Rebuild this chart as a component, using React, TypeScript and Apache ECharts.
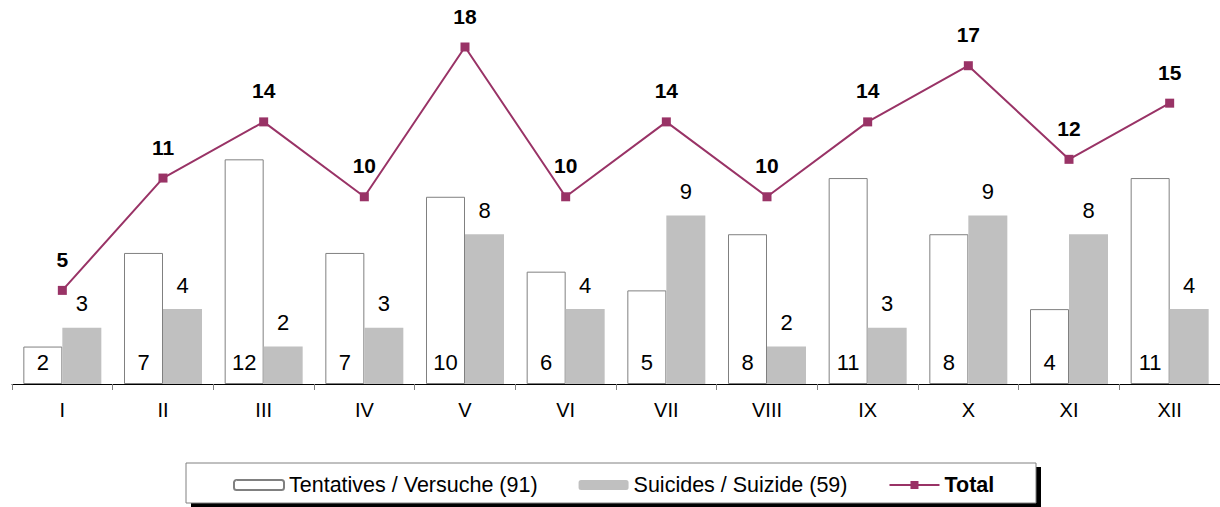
import React, { useEffect, useRef } from "react";
import * as echarts from "echarts";

const categories = ["I", "II", "III", "IV", "V", "VI", "VII", "VIII", "IX", "X", "XI", "XII"];
const tentatives = [2, 7, 12, 7, 10, 6, 5, 8, 11, 8, 4, 11];
const suicides = [3, 4, 2, 3, 8, 4, 9, 2, 3, 9, 8, 4];
const totals = [5, 11, 14, 10, 18, 10, 14, 10, 14, 17, 12, 15];
const seriesNames = ["Tentatives / Versuche (91)", "Suicides / Suizide (59)", "Total"];

const FONT = "'Liberation Sans', Arial, sans-serif";

export default function App() {
  const ref = useRef<HTMLDivElement>(null);
  useEffect(() => {
    if (!ref.current) return;
    const chart = echarts.init(ref.current, undefined, { renderer: "svg" });
    chart.setOption({
      animation: false,
      textStyle: { fontFamily: FONT },
      grid: { left: 12, right: 0, top: 47, bottom: 123 },
      graphic: [
        { type: "rect", shape: { x: 191, y: 467, width: 850, height: 40 }, style: { fill: "#000" }, z: 0 },
        { type: "rect", shape: { x: 186, y: 463, width: 850, height: 40 }, style: { fill: "#fff", stroke: "#808080", lineWidth: 1 }, z: 1 },
      ],
      legend: {
        left: 228,
        top: 469,
        itemWidth: 50,
        itemHeight: 10,
        itemGap: 41,
        z: 10,
        textStyle: { fontSize: 21.5, color: "#000", fontFamily: FONT },
        data: [
          { name: seriesNames[0] },
          { name: seriesNames[1] },
          { name: seriesNames[2], textStyle: { fontWeight: "bold" } },
        ],
      },
      xAxis: {
        type: "category",
        data: categories,
        axisLine: { lineStyle: { color: "#000", width: 1 } },
        axisTick: { show: true, length: 6, lineStyle: { color: "#808080" } },
        axisLabel: { color: "#000", fontSize: 20, margin: 16, fontFamily: FONT },
      },
      yAxis: {
        type: "value",
        min: 0,
        max: 18,
        show: false,
        splitLine: { show: false },
      },
      series: [
        {
          name: seriesNames[0],
          type: "bar",
          data: tentatives,
          barWidth: 39,
          barGap: "0%",
          itemStyle: { color: "#fff", borderColor: "#808080", borderWidth: 1 },
          label: {
            show: true,
            position: "insideBottom",
            distance: 11,
            fontSize: 22,
            color: "#000",
            fontFamily: FONT,
          },
        },
        {
          name: seriesNames[1],
          type: "bar",
          data: suicides,
          barWidth: 39,
          itemStyle: { color: "#c0c0c0" },
          label: {
            show: true,
            position: "top",
            distance: 13,
            fontSize: 22,
            color: "#000",
            fontFamily: FONT,
          },
        },
        {
          name: seriesNames[2],
          type: "line",
          data: totals,
          symbol: "rect",
          symbolSize: 9,
          lineStyle: { color: "#993366", width: 2 },
          itemStyle: { color: "#993366" },
          label: {
            show: true,
            position: "top",
            distance: 16,
            fontSize: 21,
            fontWeight: "bold",
            color: "#000",
            fontFamily: FONT,
          },
          z: 5,
        },
      ],
    });
    return () => chart.dispose();
  }, []);
  return <div ref={ref} style={{ width: 1220, height: 507, position: "absolute", left: 0, top: 0 }} />;
}
